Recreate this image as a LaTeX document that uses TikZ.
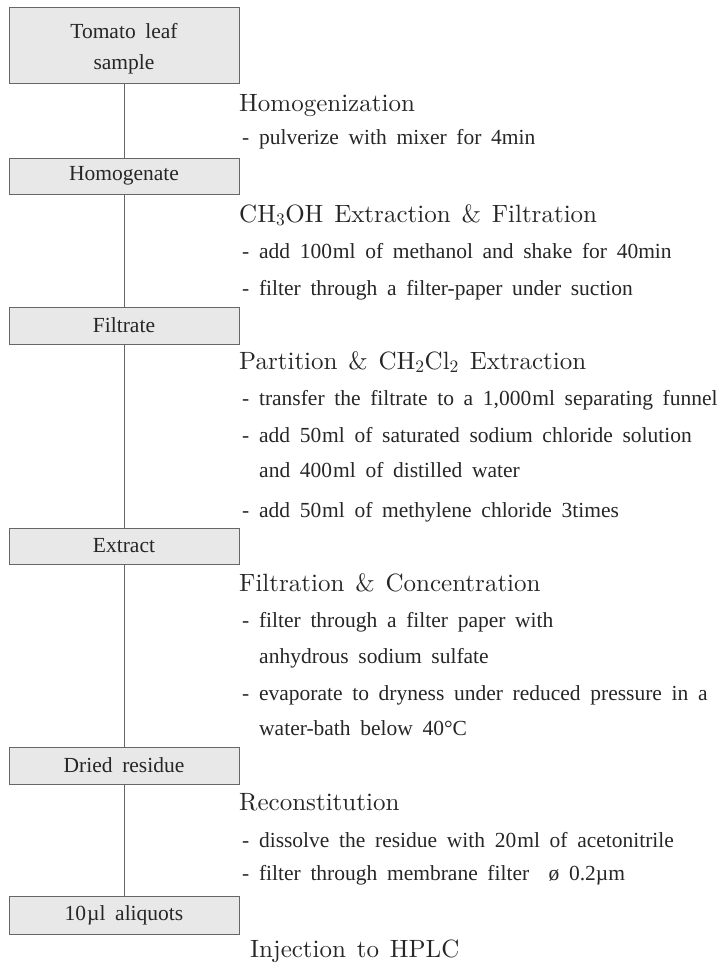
\documentclass[tikz,border=0pt]{standalone}
\usepackage{fontspec}
\newfontfamily\bodyfont[WordSpace=1.8]{Liberation Serif}
\newfontfamily\headfont[Extension=.otf,WordSpace=1.3]{lmroman10-regular}
\usepackage{tikz}

\definecolor{ink}{gray}{0.15}
\definecolor{boxfill}{gray}{0.91}
\definecolor{boxline}{gray}{0.4}

\tikzset{
    stepbox/.style={draw=boxline,fill=boxfill,line width=0.8pt,minimum width=230pt,
        inner sep=0pt,align=center,text=ink,font=\bodyfont\fontsize{21.5}{31}\selectfont},
    stage/.style={anchor=base west,inner sep=0pt,text=ink,font=\headfont\fontsize{25}{30}\selectfont},
    detail/.style={anchor=base west,inner sep=0pt,text=ink,font=\bodyfont\fontsize{21.5}{25}\selectfont},
    link/.style={draw=boxline,line width=0.8pt}
}

\begin{document}
\begin{tikzpicture}[x=1pt,y=-1pt]
            \useasboundingbox (0,0) rectangle (724,963);

            % sample column
            \node[stepbox,minimum height=76pt] (tomato) at (124,45) {\rule{0pt}{22pt}Tomato leaf\\sample};
            \foreach \nm/\y/\h/\lab in {homog/176/36/Homogenate,filtrate/325.5/37/Filtrate,
                extract/546/36/Extract,dried/765.5/37/Dried residue,aliquot/915/38/{10\kern1pt µl aliquots}}{
                \node[stepbox,minimum height=\h pt] (\nm) at (124,\y) {\lab};
            }
            \foreach \a/\b in {tomato/homog,homog/filtrate,filtrate/extract,extract/dried,dried/aliquot}{
                \draw[link] (\a) -- (\b);
            }

            % stage titles
            \foreach \nm/\x/\y/\lab in {s1/239/112/Homogenization,
                s2/239/222/{CH\textsubscript{3}OH Extraction \& Filtration},
                s3/239/369/{Partition \& CH\textsubscript{2}Cl\textsubscript{2} Extraction},
                s4/239/591/{Filtration \& Concentration},
                s5/239/810/Reconstitution,
                s6/250/957/{Injection to HPLC}}{
                \node[stage] (\nm) at (\x,\y) {\lab};
            }

            % step details
            \foreach \nm/\x/\y/\lab in {d1/242/144/{- pulverize with mixer for 4min},
                d2/242/258/{- add 100\kern1pt ml of methanol and shake for 40min},
                d3/242/295/{- filter through a filter-paper under suction},
                d4/242/405/{- transfer the filtrate to a 1,000\kern1pt ml separating funnel},
                d5/242/442/{- add 50\kern1pt ml of saturated sodium chloride solution},
                d6/259/477/{and 400\kern1pt ml of distilled water},
                d7/242/517/{- add 50\kern1pt ml of methylene chloride 3times},
                d8/242/627/{- filter through a filter paper with},
                d9/259/663/{anhydrous sodium sulfate},
                d10/242/700/{- evaporate to dryness under reduced pressure in a},
                d11/259/735/{water-bath below 40°C},
                d12/242/847/{- dissolve the residue with 20\kern1pt ml of acetonitrile},
                d13/242/880/{- filter through membrane filter \ ø 0.2µm}}{
                \node[detail] (\nm) at (\x,\y) {\lab};
            }
\end{tikzpicture}
\end{document}
